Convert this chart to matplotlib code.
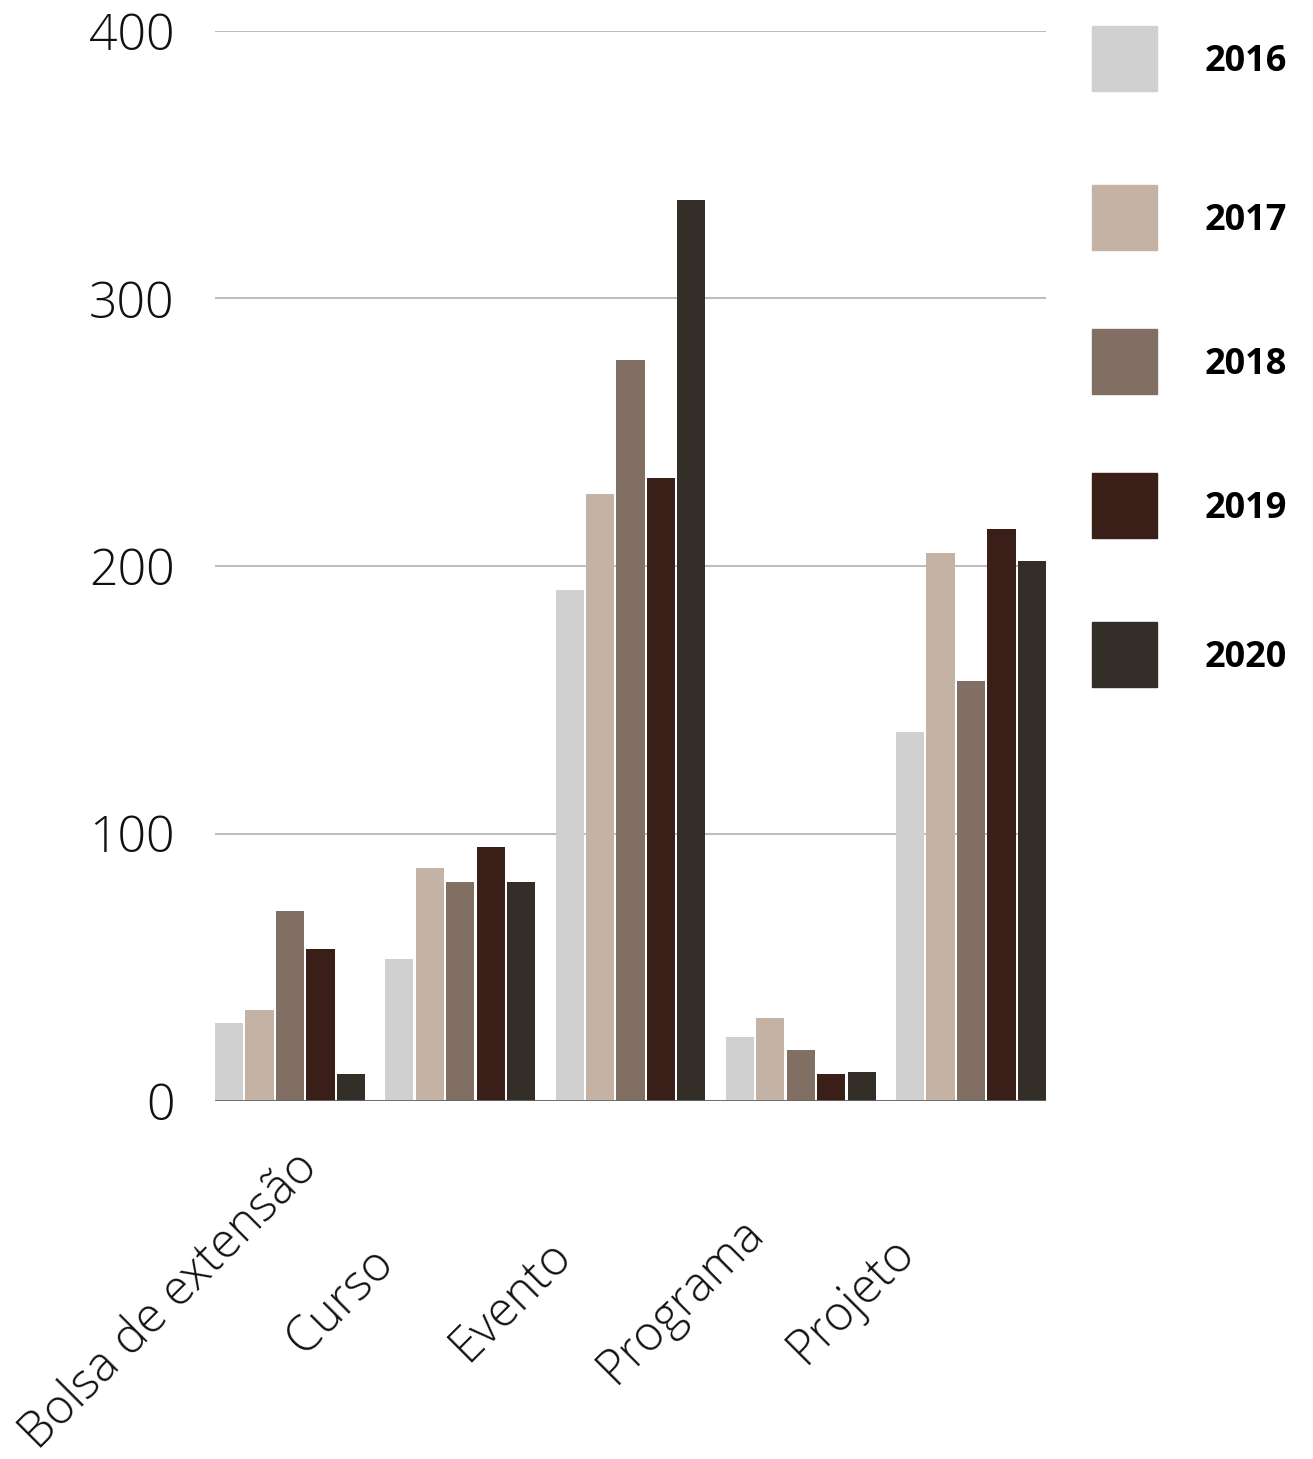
import matplotlib.pyplot as plt
import matplotlib.patches as mpatches
import matplotlib.transforms as mtransforms
import numpy as np

# dados
categorias = ["Bolsa de extensão", "Curso", "Evento", "Programa", "Projeto"]
anos = ["2016", "2017", "2018", "2019", "2020"]
v2016 = [29, 53, 191, 24, 138]
v2017 = [34, 87, 227, 31, 205]
v2018 = [71, 82, 277, 19, 157]
v2019 = [57, 95, 233, 10, 214]
v2020 = [10, 82, 337, 11, 202]
cores = ["#d0d0d0", "#c4b3a4", "#816f63", "#3a1f19", "#332e27"]

series = [v2016, v2017, v2018, v2019, v2020]

W, H = 1313, 1459
fig = plt.figure(figsize=(W / 100, H / 100), dpi=100)
ax = fig.add_axes([215 / W, (H - 1101) / H, 831 / W, 1070 / H])

x = np.arange(len(categorias))
passo = 0.179
largura = 0.165
for j, vals in enumerate(series):
    ax.bar(x + (j - 2) * passo, vals, width=largura, color=cores[j], zorder=3)

meia = 2 * passo + largura / 2
ax.set_xlim(-meia, len(categorias) - 1 + meia)
ax.set_ylim(0, 400)
ax.set_yticks([0, 100, 200, 300, 400])
ax.yaxis.grid(True, color="#bdbdbd", linewidth=1.5, zorder=0)
ax.axhline(0, color="#666666", linewidth=2, zorder=4)
for s in ax.spines.values():
    s.set_visible(False)
ax.set_xticks([])
ax.tick_params(axis="y", length=0, pad=29, labelsize=36, labelcolor="#111111")
for lab in ax.get_yticklabels():
    lab.set_family("Open Sans")
    lab.set_fontweight("light")

# rotulos do eixo x, girados 45 graus
trans = mtransforms.blended_transform_factory(ax.transData, ax.transAxes)
desloc = mtransforms.ScaledTranslation(-120 / 100, 0, fig.dpi_scale_trans)
for i, nome in enumerate(categorias):
    ax.text(i, -0.187, nome, transform=trans + desloc, rotation=45,
            ha="center", va="center", rotation_mode="anchor",
            fontsize=35, family="Open Sans", fontweight="light", color="#111111")

# legenda manual
legenda_y = [26, 185, 329, 473, 622]
for j, ano in enumerate(anos):
    y0 = legenda_y[j]
    fig.patches.append(mpatches.Rectangle((1092 / W, 1 - (y0 + 65) / H), 65 / W, 65 / H,
                                          transform=fig.transFigure, color=cores[j]))
    fig.text(1205 / W, 1 - (y0 + 36) / H, ano, ha="left", va="center",
             fontsize=26, family="Open Sans", fontweight="bold", color="#000000")

fig.savefig("out.png", dpi=100)
